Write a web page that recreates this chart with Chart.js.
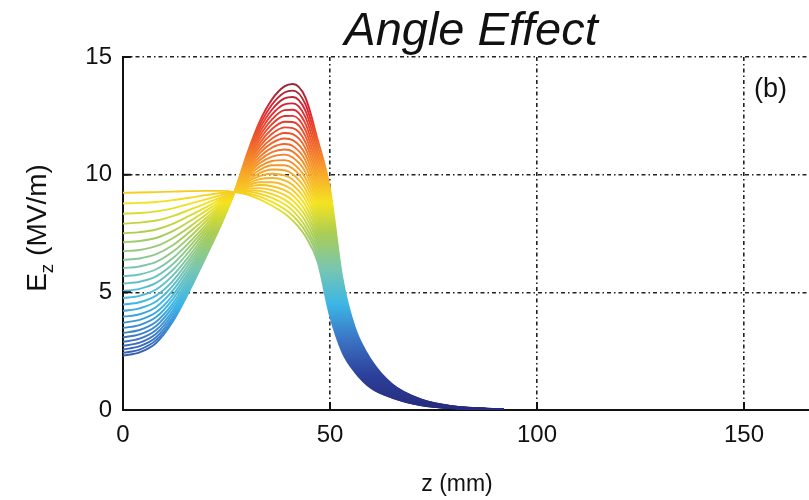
<!DOCTYPE html>
<html>
<head>
<meta charset="utf-8">
<script src="https://cdn.jsdelivr.net/npm/chart.js@4.4.0/dist/chart.umd.min.js"></script>
<style>
  html, body { margin: 0; padding: 0; background: #fff; overflow: hidden; }
</style>
</head>
<body>
<canvas id="angleChart" width="809" height="500"></canvas>
<script>
// z positions (mm) where every field curve is sampled
const zPos = [0, 4, 8, 12, 16, 20, 24, 27, 30, 33, 36, 39, 41, 44, 47, 50, 53, 56, 60, 65, 72, 80, 92];

// Ez (MV/m), one row per angle, flattest curve first
const ezCurves = [
  [9.23, 9.24, 9.26, 9.28, 9.30, 9.31, 9.31, 9.26, 9.15, 8.95, 8.68, 8.35, 8.05, 7.40, 6.30, 4.00, 2.45, 1.62, 0.92, 0.52, 0.20, 0.07, 0.01],
  [8.78, 8.80, 8.84, 8.92, 9.02, 9.13, 9.22, 9.26, 9.21, 9.07, 8.84, 8.54, 8.26, 7.61, 6.49, 4.19, 2.56, 1.69, 0.96, 0.54, 0.21, 0.07, 0.01],
  [8.34, 8.37, 8.44, 8.57, 8.76, 8.95, 9.14, 9.26, 9.28, 9.19, 9.01, 8.74, 8.47, 7.82, 6.67, 4.39, 2.68, 1.76, 1.01, 0.56, 0.22, 0.08, 0.01],
  [7.92, 7.96, 8.05, 8.24, 8.50, 8.78, 9.06, 9.26, 9.34, 9.31, 9.17, 8.94, 8.68, 8.04, 6.87, 4.59, 2.79, 1.82, 1.05, 0.58, 0.23, 0.08, 0.01],
  [7.51, 7.56, 7.67, 7.91, 8.25, 8.61, 8.99, 9.27, 9.41, 9.43, 9.34, 9.14, 8.90, 8.26, 7.06, 4.79, 2.91, 1.89, 1.09, 0.61, 0.24, 0.08, 0.01],
  [7.13, 7.18, 7.31, 7.60, 8.01, 8.46, 8.91, 9.27, 9.47, 9.56, 9.51, 9.34, 9.12, 8.48, 7.25, 4.99, 3.03, 1.97, 1.14, 0.63, 0.25, 0.08, 0.01],
  [6.75, 6.80, 6.96, 7.30, 7.77, 8.30, 8.84, 9.27, 9.54, 9.68, 9.68, 9.55, 9.34, 8.71, 7.45, 5.20, 3.15, 2.04, 1.18, 0.65, 0.26, 0.09, 0.01],
  [6.38, 6.44, 6.62, 7.00, 7.55, 8.15, 8.77, 9.27, 9.61, 9.81, 9.86, 9.76, 9.56, 8.94, 7.66, 5.41, 3.27, 2.11, 1.23, 0.67, 0.27, 0.09, 0.01],
  [6.03, 6.10, 6.29, 6.72, 7.33, 8.01, 8.70, 9.27, 9.68, 9.94, 10.04, 9.97, 9.79, 9.17, 7.86, 5.62, 3.40, 2.18, 1.27, 0.69, 0.28, 0.09, 0.01],
  [5.69, 5.76, 5.98, 6.45, 7.12, 7.87, 8.64, 9.27, 9.74, 10.07, 10.22, 10.19, 10.02, 9.40, 8.07, 5.83, 3.52, 2.26, 1.32, 0.72, 0.28, 0.10, 0.01],
  [5.37, 5.45, 5.68, 6.19, 6.93, 7.74, 8.58, 9.28, 9.82, 10.20, 10.40, 10.40, 10.26, 9.64, 8.28, 6.05, 3.65, 2.34, 1.37, 0.74, 0.30, 0.10, 0.01],
  [5.06, 5.15, 5.40, 5.95, 6.74, 7.62, 8.52, 9.28, 9.89, 10.34, 10.58, 10.62, 10.49, 9.88, 8.49, 6.27, 3.78, 2.41, 1.42, 0.76, 0.31, 0.10, 0.01],
  [4.76, 4.85, 5.12, 5.71, 6.55, 7.50, 8.46, 9.28, 9.96, 10.48, 10.77, 10.85, 10.73, 10.13, 8.71, 6.50, 3.91, 2.49, 1.47, 0.79, 0.32, 0.11, 0.01],
  [4.48, 4.58, 4.86, 5.48, 6.38, 7.38, 8.41, 9.28, 10.03, 10.61, 10.96, 11.07, 10.98, 10.38, 8.92, 6.72, 4.04, 2.57, 1.52, 0.81, 0.33, 0.11, 0.02],
  [4.21, 4.32, 4.61, 5.27, 6.22, 7.27, 8.36, 9.28, 10.11, 10.75, 11.15, 11.30, 11.22, 10.63, 9.14, 6.95, 4.17, 2.65, 1.57, 0.84, 0.34, 0.11, 0.02],
  [3.96, 4.07, 4.38, 5.07, 6.06, 7.17, 8.31, 9.28, 10.18, 10.90, 11.35, 11.54, 11.47, 10.88, 9.37, 7.19, 4.31, 2.73, 1.62, 0.86, 0.35, 0.12, 0.02],
  [3.71, 3.83, 4.15, 4.87, 5.91, 7.07, 8.27, 9.29, 10.26, 11.04, 11.54, 11.77, 11.72, 11.14, 9.59, 7.42, 4.45, 2.81, 1.67, 0.89, 0.36, 0.12, 0.02],
  [3.49, 3.61, 3.95, 4.70, 5.78, 6.98, 8.22, 9.29, 10.34, 11.19, 11.74, 12.01, 11.98, 11.40, 9.82, 7.66, 4.58, 2.89, 1.72, 0.91, 0.37, 0.12, 0.02],
  [3.28, 3.40, 3.75, 4.52, 5.65, 6.89, 8.18, 9.29, 10.41, 11.33, 11.94, 12.25, 12.24, 11.66, 10.05, 7.90, 4.72, 2.98, 1.77, 0.94, 0.38, 0.13, 0.02],
  [3.09, 3.21, 3.57, 4.37, 5.53, 6.81, 8.15, 9.29, 10.49, 11.48, 12.15, 12.49, 12.50, 11.92, 10.29, 8.14, 4.87, 3.06, 1.83, 0.97, 0.39, 0.13, 0.02],
  [2.90, 3.03, 3.40, 4.22, 5.41, 6.74, 8.11, 9.29, 10.57, 11.63, 12.35, 12.74, 12.76, 12.19, 10.53, 8.39, 5.01, 3.15, 1.88, 0.99, 0.40, 0.13, 0.02],
  [2.73, 2.86, 3.24, 4.09, 5.31, 6.67, 8.08, 9.29, 10.65, 11.78, 12.56, 12.99, 13.03, 12.47, 10.77, 8.64, 5.15, 3.23, 1.93, 1.02, 0.41, 0.14, 0.02],
  [2.57, 2.71, 3.09, 3.96, 5.21, 6.61, 8.05, 9.30, 10.73, 11.94, 12.77, 13.24, 13.30, 12.74, 11.01, 8.89, 5.30, 3.32, 1.99, 1.05, 0.43, 0.14, 0.02],
  [2.43, 2.57, 2.97, 3.85, 5.13, 6.55, 8.02, 9.30, 10.82, 12.09, 12.98, 13.49, 13.57, 13.02, 11.25, 9.14, 5.45, 3.41, 2.04, 1.07, 0.44, 0.15, 0.02],
  [2.31, 2.45, 2.85, 3.75, 5.05, 6.50, 8.00, 9.30, 10.90, 12.25, 13.20, 13.75, 13.85, 13.30, 11.50, 9.40, 5.60, 3.50, 2.10, 1.10, 0.45, 0.15, 0.02]
];

const xTicks = [0, 50, 100, 150];
const yTicks = [0, 5, 10, 15];

// jet-like colour map, keyed on the Ez value of the line
const ezColorStops = [
  [0.0, '#262a7c'],
  [1.5, '#2d409b'],
  [3.0, '#3b74c4'],
  [4.5, '#3cb6e6'],
  [6.0, '#78c6b0'],
  [7.5, '#aacd55'],
  [8.8, '#f4e31e'],
  [10.0, '#f8aa28'],
  [11.5, '#ef5c2b'],
  [12.8, '#dc2430'],
  [14.0, '#8a2636']
];
const ezColorMax = 14;

const fontFamily = '"Liberation Sans", Arial, Helvetica, sans-serif';

function ezGradient(chart) {
  const yScale = chart.scales.y;
  if (!yScale || !chart.chartArea) return '#888';
  const y0 = yScale.getPixelForValue(0);
  const y1 = yScale.getPixelForValue(ezColorMax);
  const g = chart.ctx.createLinearGradient(0, y0, 0, y1);
  ezColorStops.forEach(([v, c]) => g.addColorStop(v / ezColorMax, c));
  return g;
}

// inner tick marks, title and axis captions
const frameAndLabels = {
  id: 'frameAndLabels',
  afterDraw(chart) {
    const { ctx, chartArea, scales } = chart;
    ctx.save();
    ctx.strokeStyle = '#111';
    ctx.lineWidth = 2;
    ctx.beginPath();
    xTicks.forEach(v => {
      if (v === 0) return;
      const px = scales.x.getPixelForValue(v);
      ctx.moveTo(px, chartArea.bottom);
      ctx.lineTo(px, chartArea.bottom - 8);
    });
    yTicks.forEach(v => {
      if (v === 0) return;
      const py = scales.y.getPixelForValue(v);
      ctx.moveTo(chartArea.left, py);
      ctx.lineTo(chartArea.left + 8, py);
    });
    ctx.stroke();

    ctx.fillStyle = '#111';
    ctx.textBaseline = 'alphabetic';

    ctx.font = 'italic 47px ' + fontFamily;
    ctx.textAlign = 'center';
    ctx.fillText('Angle Effect', 471, 45);

    ctx.font = '27px ' + fontFamily;
    ctx.textAlign = 'left';
    ctx.fillText('(b)', 754, 97);

    ctx.font = '23px ' + fontFamily;
    ctx.textAlign = 'center';
    ctx.fillText('z (mm)', 457, 491);

    // E_z (MV/m), rotated
    ctx.translate(46, 228);
    ctx.rotate(-Math.PI / 2);
    const main = '28px ' + fontFamily;
    const sub = '19px ' + fontFamily;
    ctx.font = main;
    const wE = ctx.measureText('E').width;
    const wRest = ctx.measureText(' (MV/m)').width;
    ctx.font = sub;
    const wZ = ctx.measureText('z').width;
    let x = -(wE + wZ + wRest) / 2;
    ctx.textAlign = 'left';
    ctx.font = main;
    ctx.fillText('E', x, 0);
    x += wE;
    ctx.font = sub;
    ctx.fillText('z', x, 7);
    x += wZ;
    ctx.font = main;
    ctx.fillText(' (MV/m)', x, 0);
    ctx.restore();
  }
};

const ctxAngle = document.getElementById('angleChart').getContext('2d');
const angleChart = new Chart(ctxAngle, {
  type: 'line',
  data: {
    datasets: ezCurves.map(curve => ({
      data: zPos.map((z, k) => ({ x: z, y: curve[k] })),
      borderColor: c => ezGradient(c.chart),
      borderWidth: 1.9,
      pointRadius: 0,
      fill: false,
      cubicInterpolationMode: 'monotone'
    }))
  },
  options: {
    responsive: false,
    animation: false,
    devicePixelRatio: 1,
    layout: { padding: { top: 57, left: 0, right: 0, bottom: 0 } },
    plugins: {
      legend: { display: false },
      tooltip: { enabled: false },
      title: { display: false }
    },
    scales: {
      x: {
        type: 'linear',
        min: 0,
        max: 165.7,
        z: 1,
        afterBuildTicks: s => { s.ticks = xTicks.map(v => ({ value: v })); },
        afterFit: s => { s.height = 90; },
        grid: { color: '#222', lineWidth: 1.6, drawTicks: false },
        border: { display: true, color: '#111', width: 2, dash: [4, 3, 1.5, 3] },
        ticks: { color: '#111', padding: 11, maxRotation: 0, font: { family: fontFamily, size: 24 } }
      },
      y: {
        type: 'linear',
        min: 0,
        max: 15,
        z: 1,
        afterBuildTicks: s => { s.ticks = yTicks.map(v => ({ value: v })); },
        afterFit: s => { s.width = 123; },
        grid: { color: '#222', lineWidth: 1.6, drawTicks: false },
        border: { display: true, color: '#111', width: 2, dash: [4, 3, 1.5, 3] },
        ticks: { color: '#111', padding: 11, font: { family: fontFamily, size: 24 } }
      }
    }
  },
  plugins: [frameAndLabels]
});
</script>
</body>
</html>
